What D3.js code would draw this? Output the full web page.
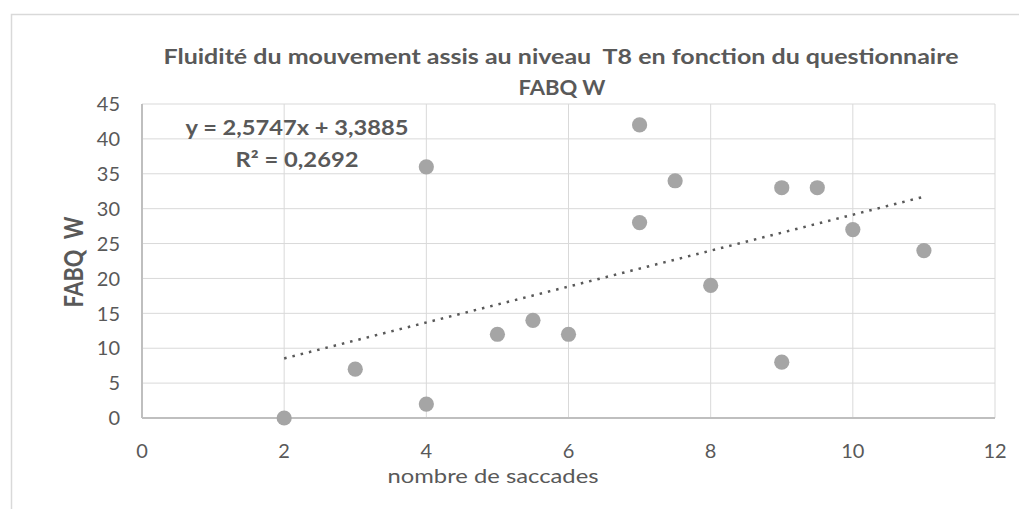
<!DOCTYPE html>
<html>
<head>
<meta charset="utf-8">
<script src="https://cdn.jsdelivr.net/npm/d3@7"></script>
<style>
  html, body { margin: 0; padding: 0; background: #fff; }
  svg { display: block; }
  text { font-family: Lato, "Open Sans", "Liberation Sans", sans-serif; white-space: pre; }
</style>
</head>
<body>
<svg id="chart" width="1019" height="509"></svg>
<script>
const title1 = "Fluidité du mouvement assis au niveau  T8 en fonction du questionnaire";
const title2 = "FABQ W";
const xLabel = "nombre de saccades";
const yLabel = "FABQ  W";
const xTicks = [0, 2, 4, 6, 8, 10, 12];
const yTicks = [0, 5, 10, 15, 20, 25, 30, 35, 40, 45];
const xValues = [2, 3, 4, 4, 5, 5.5, 6, 7, 7, 7.5, 8, 9, 9, 9.5, 10, 11];
const yValues = [0, 7, 2, 36, 12, 14, 12, 42, 28, 34, 19, 33, 8, 33, 27, 24];
const slope = 2.5747, intercept = 3.3885;
const eqText = "y = 2,5747x + 3,3885";
const r2Text = "R² = 0,2692";

const svg = d3.select("#chart");
const pLeft = 142, pRight = 995, pTop = 104, pBottom = 418;
const x = d3.scaleLinear().domain([0, 12]).range([pLeft, pRight]);
const y = d3.scaleLinear().domain([0, 45]).range([pBottom, pTop]);
const textColor = "#595959";

// outer border
svg.append("rect").attr("x", 11.5).attr("y", 14.5).attr("width", 1019).attr("height", 509)
  .attr("fill", "none").attr("stroke", "#d9d9d9").attr("stroke-width", 1.5);

// gridlines
svg.append("g").selectAll("line").data(yTicks.filter(d => d > 0)).join("line")
  .attr("x1", pLeft).attr("x2", pRight)
  .attr("y1", d => y(d)).attr("y2", d => y(d))
  .attr("stroke", "#d9d9d9").attr("stroke-width", 1);
svg.append("g").selectAll("line").data(xTicks.filter(d => d > 0)).join("line")
  .attr("y1", pTop).attr("y2", pBottom)
  .attr("x1", d => x(d)).attr("x2", d => x(d))
  .attr("stroke", "#d9d9d9").attr("stroke-width", 1);

// axis lines
svg.append("line").attr("x1", pLeft).attr("x2", pLeft).attr("y1", pTop).attr("y2", pBottom)
  .attr("stroke", "#bfbfbf").attr("stroke-width", 2);
svg.append("line").attr("x1", pLeft).attr("x2", pRight).attr("y1", pBottom).attr("y2", pBottom)
  .attr("stroke", "#bfbfbf").attr("stroke-width", 2);

// tick labels
svg.append("g").selectAll("text").data(yTicks).join("text")
  .attr("x", pLeft - 22).attr("y", d => y(d)).attr("dy", "0.36em")
  .attr("text-anchor", "end").attr("fill", textColor).attr("font-size", 20)
  .text(d => d);
svg.append("g").selectAll("text").data(xTicks).join("text")
  .attr("x", d => x(d)).attr("y", pBottom + 40)
  .attr("text-anchor", "middle").attr("fill", textColor).attr("font-size", 20)
  .text(d => d);

// trendline
const xMin = d3.min(xValues), xMax = d3.max(xValues);
svg.append("line")
  .attr("x1", x(xMin)).attr("y1", y(slope * xMin + intercept))
  .attr("x2", x(xMax)).attr("y2", y(slope * xMax + intercept))
  .attr("stroke", "#595959").attr("stroke-width", 2.5)
  .attr("stroke-dasharray", "2.5,6");

// points
svg.append("g").selectAll("circle").data(xValues.map((v, i) => [v, yValues[i]])).join("circle")
  .attr("cx", d => x(d[0])).attr("cy", d => y(d[1])).attr("r", 7.6)
  .attr("fill", "#a5a5a5");

function label(tx, ty, str, size, bold, len) {
  const t = svg.append("text").attr("x", tx).attr("y", ty).attr("text-anchor", "middle")
    .attr("fill", textColor).attr("font-size", size).attr("font-weight", bold ? "bold" : "normal")
    .text(str);
  if (len) t.attr("textLength", len).attr("lengthAdjust", "spacingAndGlyphs");
  return t;
}

// equation
label(297, 135, eqText, 20, true, 223);
label(297, 167, r2Text, 20, true, 123);

// title
label(561, 64, title1, 21, true, 795);
label(562, 95, title2, 21, true, 87);

// axis labels
label(493, 483, xLabel, 20, false, 211);
svg.append("text").attr("transform", "translate(83,262) rotate(-90)").attr("text-anchor", "middle")
  .attr("fill", textColor).attr("font-size", 26).attr("font-weight", "bold")
  .attr("textLength", 91).attr("lengthAdjust", "spacingAndGlyphs").text(yLabel);
</script>
</body>
</html>
